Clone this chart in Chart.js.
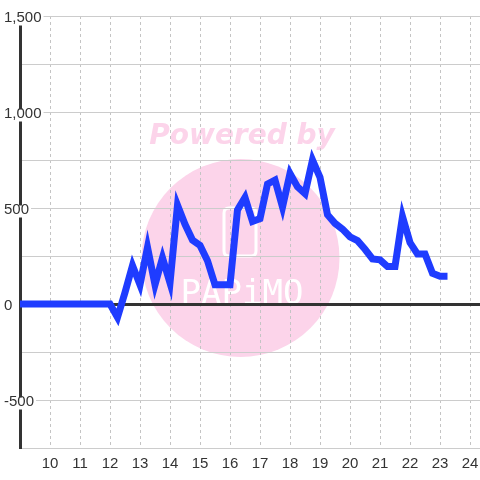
<!DOCTYPE html>
<html><head><meta charset="utf-8">
<script src="https://cdn.jsdelivr.net/npm/chart.js@4"></script>
<style>html,body{margin:0;padding:0;background:#fff}#wrap{width:480px;height:480px}</style>
</head><body><div id="wrap"><canvas id="c" width="480" height="480"></canvas></div>
<script>
// ---- data ----
const times = [
  '9:00','9:15','9:30','9:45','10:00','10:15','10:30','10:45','11:00','11:15','11:30','11:45','12:00',
  '12:15','12:30','12:45','13:00','13:15','13:30','13:45','14:00','14:15','14:30','14:45','15:00',
  '15:15','15:30','15:45','16:00','16:15','16:30','16:45','17:00','17:15','17:30','17:45','18:00',
  '18:15','18:30','18:45','19:00','19:15','19:30','19:45','20:00','20:15','20:30','20:45','21:00',
  '21:15','21:30','21:45','22:00','22:15','22:30','22:45','23:00','23:15'
];
const values = [
  0,0,0,0,0,0,0,0,0,0,0,0,0,
  -70,60,200,100,295,100,240,110,515,415,333,305,
  225,100,100,100,490,555,430,445,625,645,505,680,
  610,575,750,660,465,420,390,350,330,285,235,230,
  195,195,455,320,260,260,160,145,145
];
const xTicks = [10,11,12,13,14,15,16,17,18,19,20,21,22,23,24];
const xMin = 9, xMax = 24 + 1/3;
const yMin = -750, yMax = 1500, yStep = 250, yLabelStep = 500;

const toHour = t => { const [h, m] = t.split(':').map(Number); return h + m / 60; };
const points = times.map((t, i) => ({ x: toHour(t), y: values[i] }));

const watermark = {
  id: 'watermark',
  beforeDraw(chart) {
    const ctx = chart.ctx;
    ctx.save();
    ctx.fillStyle = '#ffffff';
    ctx.fillRect(0, 0, chart.width, chart.height);
    const pink = 'rgb(252,212,234)';
    ctx.fillStyle = pink;
    ctx.beginPath();
    ctx.arc(240.5, 258, 99, 0, Math.PI * 2);
    ctx.fill();
    ctx.font = 'italic bold 28px "DejaVu Sans"';
    ctx.textAlign = 'center';
    ctx.textBaseline = 'alphabetic';
    ctx.fillText('Powered by', 242, 144);
    // logo
    ctx.strokeStyle = '#ffffff';
    ctx.lineWidth = 3;
    const rx = 224, ry = 208, rw = 32, rh = 48, r = 5;
    ctx.beginPath();
    ctx.moveTo(rx + r, ry); ctx.lineTo(rx + rw - r, ry); ctx.quadraticCurveTo(rx + rw, ry, rx + rw, ry + r);
    ctx.lineTo(rx + rw, ry + rh - r); ctx.quadraticCurveTo(rx + rw, ry + rh, rx + rw - r, ry + rh);
    ctx.lineTo(rx + r, ry + rh); ctx.quadraticCurveTo(rx, ry + rh, rx, ry + rh - r);
    ctx.lineTo(rx, ry + r); ctx.quadraticCurveTo(rx, ry, rx + r, ry);
    ctx.stroke();
    ctx.fillStyle = '#ffffff';
    ctx.font = '34px "DejaVu Sans Mono"';
    ctx.fillText('PAPiMO', 242, 304);
    ctx.restore();
  }
};

new Chart(document.getElementById('c'), {
  type: 'line',
  data: {
    datasets: [{
      data: points,
      borderColor: '#1f3cff',
      borderWidth: 7,
      pointRadius: 0,
      tension: 0,
      fill: false,
      borderJoinStyle: 'miter'
    }]
  },
  options: {
    responsive: false,
    animation: false,
    layout: { padding: { left: 20, top: 16, right: 0, bottom: 0 } },
    plugins: { legend: { display: false }, tooltip: { enabled: false } },
    scales: {
      x: {
        type: 'linear',
        min: xMin,
        max: xMax,
        afterBuildTicks: s => { s.ticks = xTicks.map(v => ({ value: v })); },
        afterFit: s => { s.paddingLeft = 0; s.paddingRight = 0; },
        grid: { color: '#c4c4c4', lineWidth: 1, drawTicks: false },
        border: { display: true, color: '#cccccc', width: 1, dash: [3, 3] },
        ticks: {
          color: '#333',
          font: { family: '"Liberation Sans", Arial, sans-serif', size: 15 },
          padding: 7,
          maxRotation: 0,
          autoSkip: false,
          callback: v => String(v)
        }
      },
      y: {
        type: 'linear',
        min: yMin,
        max: yMax,
        afterFit: s => { s.width = 0; s.paddingTop = 0; s.paddingBottom = 0; },
        ticks: {
          stepSize: yStep,
          mirror: true,
          padding: -16,
          labelOffset: 2,
          color: '#333',
          font: { family: '"Liberation Sans", Arial, sans-serif', size: 15, lineHeight: 1 },
          showLabelBackdrop: c => c.tick && c.tick.value % yLabelStep === 0,
          backdropColor: '#ffffff',
          backdropPadding: { top: -3, bottom: 0, left: 2, right: 2 },
          callback: v => (v % yLabelStep === 0 ? v.toLocaleString('en-US') : '')
        },
        grid: {
          drawTicks: false,
          color: c => (c.tick && c.tick.value === 0 ? '#333333' : '#cccccc'),
          lineWidth: c => (c.tick && c.tick.value === 0 ? 3 : 1)
        },
        border: { display: true, color: '#333333', width: 3 }
      }
    }
  },
  plugins: [watermark]
});
</script>
</body></html>
